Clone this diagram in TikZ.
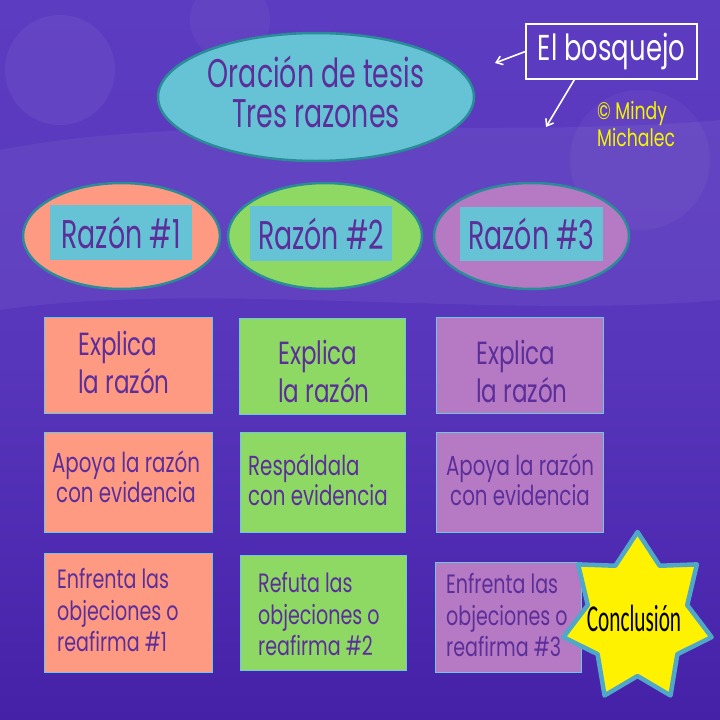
\documentclass[tikz,border=0pt]{standalone}
\usepackage{fontspec}
\usetikzlibrary{arrows.meta,calc,shapes.geometric}
\newfontfamily\gothic[FakeStretch=0.72]{Poppins}
\newfontfamily\gothicN[FakeStretch=0.67]{Poppins}
\newfontfamily\calib[FakeStretch=0.56]{Carlito}
\definecolor{bgtop}{HTML}{5C3CC0}
\definecolor{bgmid}{HTML}{5836BC}
\definecolor{bgbot}{HTML}{4521A8}
\definecolor{cyanfill}{HTML}{66C3D5}
\definecolor{tealline}{HTML}{2A8C99}
\definecolor{salmon}{HTML}{FF9A82}
\definecolor{lgreen}{HTML}{8DD964}
\definecolor{mauve}{HTML}{B57AC3}
\definecolor{txtpurple}{HTML}{5B2E9A}
\definecolor{boxline}{HTML}{6CC8E0}
\definecolor{starline}{HTML}{4FA8C8}
\definecolor{yel}{HTML}{F5F500}
\tikzset{
  oval/.style={ellipse, draw=tealline, line width=2.5pt, inner sep=0pt},
  tag/.style={rectangle, fill=cyanfill, inner sep=0pt, text=txtpurple,
    font=\fontsize{40}{44}\selectfont\gothicN},
  card/.style={rectangle, draw=boxline, line width=0.8pt, inner sep=0pt},
  bigtxt/.style={text=txtpurple, align=left, inner sep=0pt,
    font=\fontsize{32}{38}\selectfont\gothic},
  midtxt/.style={text=txtpurple, inner sep=0pt,
    font=\fontsize{27.5}{30}\selectfont\gothic},
  smalltxt/.style={text=txtpurple, align=left, inner sep=0pt,
    font=\fontsize{26.5}{31.5}\selectfont\gothic},
  wharrow/.style={draw=white, line width=1.6pt, -{Straight Barb[length=6pt,width=9pt]}}
}
\begin{document}
\begin{tikzpicture}[x=1pt,y=-1pt]
\useasboundingbox (0,0) rectangle (720,720);
% background
\shade[top color=bgtop, bottom color=bgbot, middle color=bgmid] (0,0) rectangle (720,720);
\fill[white, opacity=0.05] (0,150) .. controls (200,110) and (500,140) .. (720,120) -- (720,300) .. controls (500,320) and (200,280) .. (0,310) -- cycle;
\fill[white, opacity=0.05] (60,70) circle (55);
\fill[white, opacity=0.04] (640,160) circle (70);
\fill[white, opacity=0.04] (230,20) circle (40);

% title ellipse
\node[oval, fill=cyanfill, minimum width=316pt, minimum height=128pt] (thesis) at (316,97) {};
\node[text=txtpurple, align=center, inner sep=0pt,
      font=\fontsize{40}{40}\selectfont\gothicN] (thesisTxt) at (316,92) {Oración de tesis\\Tres razones};

% El bosquejo
\node[rectangle, draw=white, line width=1.2pt, minimum width=171pt, minimum height=55pt,
      inner sep=0pt, text=white, font=\fontsize{36}{40}\selectfont\gothic]
  (bosq) at (611.5,51.5) {El bosquejo};
\coordinate (a1) at (495,63);
\coordinate (a2) at (546,127);
\draw[wharrow] (bosq.west) -- (a1);
\draw[wharrow] ([xshift=49pt]bosq.south west) -- (a2);
\node[anchor=west, align=left, inner sep=0pt, text=yel,
      font=\fontsize{24}{27}\selectfont\gothic] (copy) at (597,124) {© Mindy\\Michalec};

% reason ellipses
\node[oval, fill=salmon, minimum width=197pt, minimum height=106pt] (e1) at (121.5,236) {};
\node[oval, fill=lgreen, minimum width=194pt, minimum height=106pt] (e2) at (325,236) {};
\node[oval, fill=mauve, minimum width=195pt, minimum height=106pt] (e3) at (531.5,236) {};
\node[tag, minimum width=142pt, minimum height=55pt] (r1) at (121,232.5) {Razón \#1};
\node[tag, minimum width=142pt, minimum height=55pt] (r2) at (321,233.5) {Razón \#2};
\node[tag, minimum width=143pt, minimum height=54pt] (r3) at (531.5,234) {Razón \#3};

% row 1
\node[card, fill=salmon, minimum width=168pt, minimum height=96pt] (b11) at (128,365) {};
\node[card, fill=lgreen, minimum width=166pt, minimum height=96pt] (b12) at (322,366) {};
\node[card, fill=mauve, minimum width=167pt, minimum height=96pt] (b13) at (519.5,365) {};
\node[bigtxt, anchor=west] (t11) at (78,362) {Explica\\la razón};
\node[bigtxt, anchor=west] (t12) at (278,371) {Explica\\la razón};
\node[bigtxt, anchor=west] (t13) at (476,371) {Explica\\la razón};

% row 2
\node[card, fill=salmon, minimum width=168pt, minimum height=100pt] (b21) at (128,482) {};
\node[card, fill=lgreen, minimum width=165pt, minimum height=100pt] (b22) at (322.5,482) {};
\node[card, fill=mauve, minimum width=167pt, minimum height=100pt] (b23) at (519.5,482) {};
\node[midtxt, align=center] (t21) at (126,477) {Apoya la razón\\con evidencia};
\node[midtxt, align=left, anchor=west] (t22) at (248,480) {Respáldala\\con evidencia};
\node[midtxt, align=center] (t23) at (520,480) {Apoya la razón\\con evidencia};

% row 3
\node[card, fill=salmon, minimum width=168pt, minimum height=119pt] (b31) at (128,612.5) {};
\node[card, fill=lgreen, minimum width=166pt, minimum height=115pt] (b32) at (323,613) {};
\node[card, fill=mauve, minimum width=146pt, minimum height=110pt] (b33) at (508,617) {};
\node[smalltxt, anchor=west] (t31) at (57,610) {Enfrenta las\\objeciones o\\reafirma \#1};
\node[smalltxt, anchor=west] (t32) at (258,614) {Refuta las\\objeciones o\\reafirma \#2};
\node[smalltxt, anchor=west] (t33) at (446,615) {Enfrenta las\\objeciones o\\reafirma \#3};

% star
\draw[fill=yellow, draw=starline, line width=4.5pt, line join=round]
  plot[samples at={0,...,13}]
  ({637.5+(mod(\x,2)==0 ? 76 : 51)*cos(90-\x*180/7)},
   {618-(mod(\x,2)==0 ? 86 : 58)*sin(90-\x*180/7)}) -- cycle;
\node[text=black, inner sep=0pt, font=\fontsize{38}{40}\selectfont\calib] (concl) at (634,618) {Conclusión};
\end{tikzpicture}
\end{document}
